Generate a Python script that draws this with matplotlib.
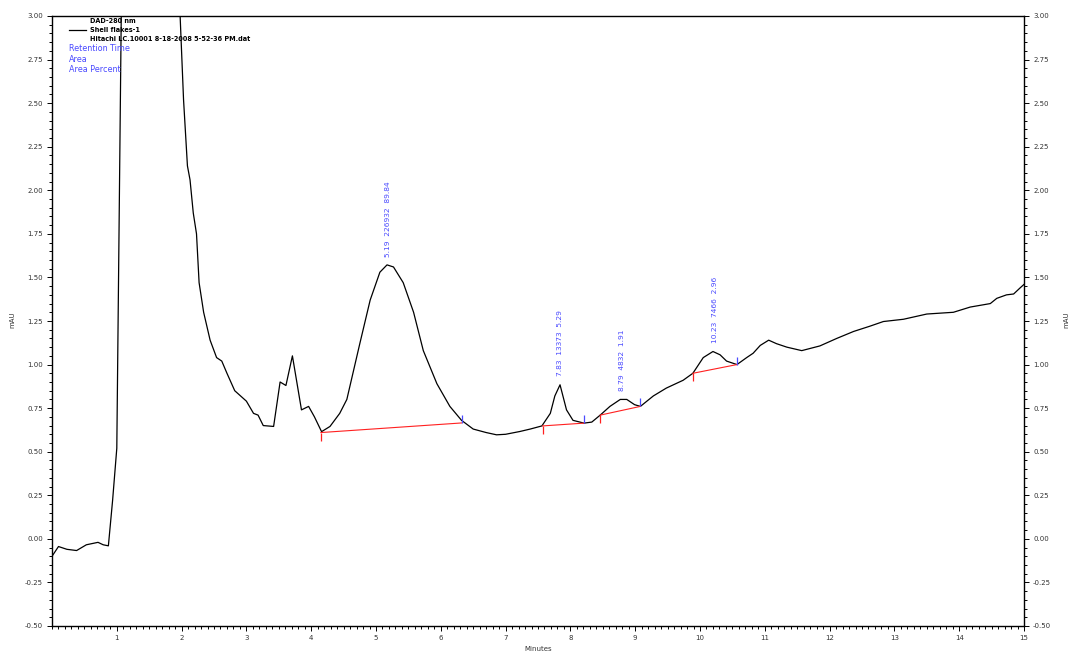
import matplotlib.pyplot as plt
from matplotlib.ticker import MultipleLocator, FormatStrFormatter

# chromatogram trace (minutes, mAU)
t = [0.0, 0.10, 0.23, 0.38, 0.53, 0.71, 0.79, 0.87, 0.935, 1.0, 1.07, 1.5, 1.975,
     2.03, 2.09, 2.13, 2.18, 2.23, 2.27, 2.34, 2.44, 2.54, 2.62, 2.70, 2.82, 3.0,
     3.11, 3.18, 3.26, 3.42, 3.52, 3.61, 3.71, 3.85, 3.96, 4.05, 4.16, 4.29, 4.44,
     4.55, 4.75, 4.91, 5.06, 5.17, 5.27, 5.42, 5.58, 5.73, 5.94, 6.14, 6.32, 6.50,
     6.70, 6.86, 7.0, 7.22, 7.38, 7.56, 7.69, 7.76, 7.84, 7.94, 8.04, 8.21, 8.33,
     8.46, 8.61, 8.77, 8.87, 8.99, 9.08, 9.28, 9.48, 9.74, 9.89, 10.05, 10.20,
     10.31, 10.41, 10.57, 10.72, 10.82, 10.93, 11.06, 11.18, 11.34, 11.57, 11.85,
     12.11, 12.37, 12.62, 12.83, 13.14, 13.50, 13.91, 14.17, 14.48, 14.58, 14.73,
     14.84, 14.94, 15.0]
mau = [-0.10, -0.044, -0.06, -0.067, -0.034, -0.02, -0.034, -0.04, 0.22, 0.52, 3.05, 8.0, 3.02,
       2.52, 2.14, 2.06, 1.87, 1.75, 1.47, 1.30, 1.14, 1.04, 1.02, 0.95, 0.85, 0.79,
       0.72, 0.71, 0.65, 0.645, 0.90, 0.88, 1.05, 0.74, 0.76, 0.70, 0.615, 0.645, 0.72,
       0.80, 1.12, 1.37, 1.53, 1.572, 1.56, 1.47, 1.30, 1.08, 0.89, 0.76, 0.68, 0.63,
       0.61, 0.597, 0.60, 0.616, 0.63, 0.648, 0.72, 0.82, 0.884, 0.74, 0.68, 0.664, 0.67,
       0.71, 0.76, 0.80, 0.80, 0.77, 0.76, 0.82, 0.865, 0.91, 0.95, 1.04, 1.075,
       1.056, 1.02, 1.0, 1.04, 1.065, 1.11, 1.14, 1.12, 1.10, 1.08, 1.107,
       1.15, 1.19, 1.22, 1.247, 1.26, 1.29, 1.30, 1.33, 1.35, 1.38, 1.40,
       1.405, 1.44, 1.46]

# integration baselines
base_start_x = [4.15, 7.57, 8.46, 9.89]
base_start_y = [0.61, 0.648, 0.71, 0.95]
base_end_x = [6.32, 8.21, 9.08, 10.57]
base_end_y = [0.665, 0.664, 0.76, 1.0]

# peak table
peak_rt = ["5.19", "7.83", "8.79", "10.23"]
peak_area = ["226932", "13373", "4832", "7466"]
peak_pct = ["89.84", "5.29", "1.91", "2.96"]
peak_x = [5.19, 7.84, 8.79, 10.23]
peak_top = [1.572, 0.884, 0.80, 1.075]

blue = "#4a4aff"
red = "#ff2020"

fig = plt.figure(figsize=(10.71, 6.54), dpi=100)
ax = fig.add_axes([52 / 1071, 1 - 626 / 654, (1024 - 52) / 1071, (626 - 16) / 654])

ax.plot(t, mau, color="black", lw=0.9)

for i in range(len(base_start_x)):
    ax.plot([base_start_x[i], base_end_x[i]], [base_start_y[i], base_end_y[i]], color=red, lw=0.8)
ax.plot(base_start_x, base_start_y, ls="none", marker=3, ms=6, mew=0.9, color=red)
ax.plot(base_end_x, base_end_y, ls="none", marker=2, ms=5.5, mew=0.9, color=blue)

for i in range(len(peak_x)):
    ax.annotate(peak_rt[i] + "  " + peak_area[i] + "  " + peak_pct[i],
                (peak_x[i], peak_top[i]), xytext=(0, 6), textcoords="offset points",
                rotation=90, ha="center", va="bottom", color=blue, fontsize=5.4)

ax.set_xlim(0, 15)
ax.set_ylim(-0.5, 3.0)
ax.set_xticks(range(1, 16))
ax.xaxis.set_minor_locator(MultipleLocator(0.1))
ax.yaxis.set_major_locator(MultipleLocator(0.25))
ax.yaxis.set_minor_locator(MultipleLocator(0.05))
ax.yaxis.set_major_formatter(FormatStrFormatter("%.2f"))
ax.tick_params(which="both", direction="out", right=True, labelright=True,
               labelsize=5, labelcolor="#333333", width=0.7)
ax.tick_params(which="major", length=3.5, pad=3)
ax.tick_params(which="minor", length=2)
for s in ax.spines.values():
    s.set_linewidth(1.0)

fig.text(12 / 1071, 1 - 320 / 654, "mAU", rotation=90, fontsize=5, ha="center", va="center", color="#333333")
fig.text(1066 / 1071, 1 - 320 / 654, "mAU", rotation=90, fontsize=5, ha="center", va="center", color="#333333")
fig.text(538 / 1071, 1 - 649 / 654, "Minutes", fontsize=5, ha="center", va="center", color="#333333")

# legend block
ax.text(0.039, 0.991, "DAD-280 nm", transform=ax.transAxes, fontsize=4.7, fontweight="bold", va="center")
ax.plot([0.017, 0.035], [0.977, 0.977], transform=ax.transAxes, color="black", lw=0.9)
ax.text(0.039, 0.977, "Shell flakes-1", transform=ax.transAxes, fontsize=4.7, fontweight="bold", va="center")
ax.text(0.039, 0.963, "Hitachi LC.10001 8-18-2008 5-52-36 PM.dat", transform=ax.transAxes,
        fontsize=4.7, fontweight="bold", va="center")
ax.text(0.017, 0.946, "Retention Time", transform=ax.transAxes, fontsize=5.8, color=blue, va="center")
ax.text(0.017, 0.929, "Area", transform=ax.transAxes, fontsize=5.8, color=blue, va="center")
ax.text(0.017, 0.912, "Area Percent", transform=ax.transAxes, fontsize=5.8, color=blue, va="center")

fig.savefig("out.png", dpi=100)
